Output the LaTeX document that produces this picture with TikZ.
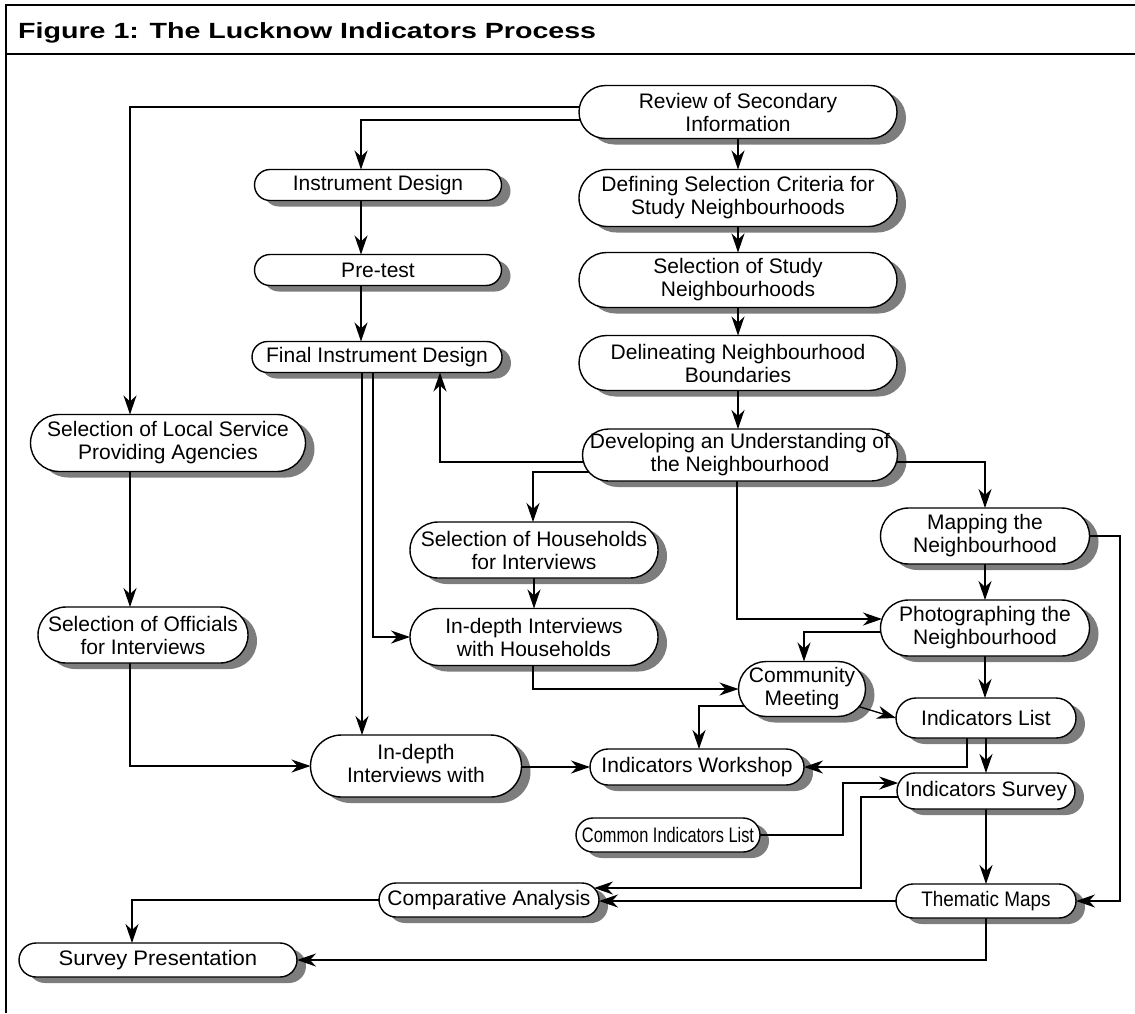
\documentclass[tikz,border=0pt]{standalone}
\usepackage{fontspec}
\usepackage{graphicx}
\setmainfont{Liberation Sans}
\usetikzlibrary{shapes.misc,arrows.meta,calc}
\pgfdeclarelayer{shadowlayer}
\pgfdeclarelayer{linelayer}
\pgfsetlayers{shadowlayer,linelayer,main}
\definecolor{shadowgray}{RGB}{125,125,125}
\tikzset{
  boxshape/.style={rounded rectangle, inner sep=0pt, outer sep=0pt, line width=1.4pt},
  boxshadow/.style={boxshape, fill=shadowgray, draw=none},
  boxbody/.style={boxshape, fill=white, draw=black},
  boxtext/.style={inner sep=0pt, align=center, font=\fontsize{21}{23}\selectfont},
  conn/.style={line width=1.3pt, -{Stealth[length=19pt, width=13pt, inset=6pt]}},
  frameline/.style={line width=1.5pt},
}
\newcommand{\flowbox}[6]{%
  \begin{pgfonlayer}{shadowlayer}
    \node[boxshadow, minimum width=#4pt, minimum height=#5pt] (#1-sh) at ({#2+9},{#3+6}) {};
  \end{pgfonlayer}
  \node[boxbody, minimum width=#4pt, minimum height=#5pt] (#1) at (#2,#3) {};
  \node[boxtext] (#1-t) at (#2,#3) {#6};
}
\begin{document}
\begin{tikzpicture}[x=1pt,y=-1pt]
\useasboundingbox (0,0) rectangle (1135,1013);
% frame
\draw[frameline] (6,1013) -- (6,5) -- (1135,5);
\draw[frameline] (6,54) -- (1135,54);
\node[anchor=base west, inner sep=0pt] (title) at (18,38)
  {\scalebox{1.3}[1]{\fontsize{22}{26}\selectfont\bfseries Figure 1: The Lucknow Indicators Process}};
% boxes
\flowbox{rev}{738}{112}{318}{53}{Review of Secondary\\Information}
\flowbox{defsel}{738}{198}{318}{57}{Defining Selection Criteria for\\Study Neighbourhoods}
\flowbox{selstudy}{738}{280}{318}{55}{Selection of Study\\Neighbourhoods}
\flowbox{delin}{738}{363}{318}{55}{Delineating Neighbourhood\\Boundaries}
\flowbox{dev}{740}{455}{315}{52}{Developing an Understanding of\\the Neighbourhood}
\flowbox{instr}{378}{185}{247}{31}{Instrument Design}
\flowbox{pretest}{378}{270}{247}{31}{Pre-test}
\flowbox{final}{377}{357}{250}{31}{Final Instrument Design}
\flowbox{sla}{168}{443}{275}{57}{Selection of Local Service\\Providing Agencies}
\flowbox{soi}{143}{635}{210}{56}{Selection of Officials\\for Interviews}
\flowbox{shi}{534}{550}{248}{56}{Selection of Households\\for Interviews}
\flowbox{iwh}{534}{637}{248}{57}{In-depth Interviews\\with Households}
\flowbox{map}{985}{536}{209}{56}{Mapping the\\Neighbourhood}
\flowbox{ptn}{985}{628}{209}{56}{Photographing the\\Neighbourhood}
\flowbox{cm}{802}{689}{127}{55}{Community\\Meeting}
\flowbox{il}{986}{718}{180}{40}{Indicators List}
\flowbox{iw}{697}{767}{214}{36}{Indicators Workshop}
\flowbox{cil}{668}{835}{184}{34}{\scalebox{0.78}[1]{Common Indicators List}}
\flowbox{isurv}{986}{791}{178}{36}{Indicators Survey}
\flowbox{cmpa}{489}{900}{220}{34}{Comparative Analysis}
\flowbox{tm}{986}{901}{180}{34}{\scalebox{0.9}[1]{Thematic Maps}}
\flowbox{sp}{158}{960}{278}{34}{\scalebox{1.05}[1]{Survey Presentation}}
\flowbox{idi}{416}{766}{211}{62}{\raisebox{5pt}{\shortstack{In-depth\\Interviews with}}}
% connectors
\begin{pgfonlayer}{linelayer}
\draw[conn] (rev.center |- 0,107) -| (130,0 |- sla.north);
\draw[conn] (rev.center |- 0,120) -| (361,0 |- instr.north);
\draw[conn] (rev) -- (defsel.north);
\draw[conn] (defsel) -- (selstudy.north);
\draw[conn] (selstudy) -- (delin.north);
\draw[conn] (delin) -- (738,0 |- dev.north);
\draw[conn] (361,0 |- instr.center) -- (361,0 |- pretest.north);
\draw[conn] (361,0 |- pretest.center) -- (361,0 |- final.north);
\draw[conn] (362,0 |- final.center) -- (362,0 |- idi.north);
\draw[conn] (373,0 |- final.center) |- (iwh.west);
\draw[conn] (dev.center |- 0,462) -| (440,0 |- final.south);
\draw[conn] (dev.center |- 0,472) -| (533,0 |- shi.north);
\draw[conn] (dev.center |- 0,462) -| (map.north);
\draw[conn] (737,0 |- dev.center) |- ($(ptn.west)+(1.5,-9)$);
\draw[conn] (map) -- (ptn.north);
\draw[conn] (map.center) -- (1120,0 |- map.center) -- (1120,0 |- tm.east) -- (tm.east);
\draw[conn] (ptn.center |- 0,632) -| (804,0 |- cm.north);
\draw[conn] (ptn) -- (ptn |- il.north);
\draw[conn] (shi) -- (shi |- iwh.north);
\draw[conn] (533,0 |- iwh.center) |- (cm.west);
\draw[conn] (130,0 |- sla.center) -- (130,0 |- soi.north);
\draw[conn] (130,0 |- soi.center) |- (idi.west);
\draw[conn] (idi.center |- iw.west) -- (iw.west);
\draw[conn] (cm) -- (il.west);
\draw[conn] (cm.center |- 0,706) -| (699,0 |- iw.north);
\draw[conn] (967,0 |- il.center) |- (iw.east);
\draw[conn] (il) -- (il |- isurv.north);
\draw[conn] (cil.center) -- (843,0 |- cil.center) -- (843,783) -- ($(isurv.west)+(1.2,-8)$);
\draw[conn] (isurv.center |- 0,797) -- (861,797) -- (861,888) -- ($(cmpa.east)+(-5,-12)$);
\draw[conn] (tm) -- (cmpa.east |- tm.center);
\draw[conn] (isurv) -- (isurv |- tm.north);
\draw[conn] (cmpa) -| (132,0 |- sp.north);
\draw[conn] (tm.center) |- (sp.east);
\end{pgfonlayer}
\end{tikzpicture}
\end{document}
